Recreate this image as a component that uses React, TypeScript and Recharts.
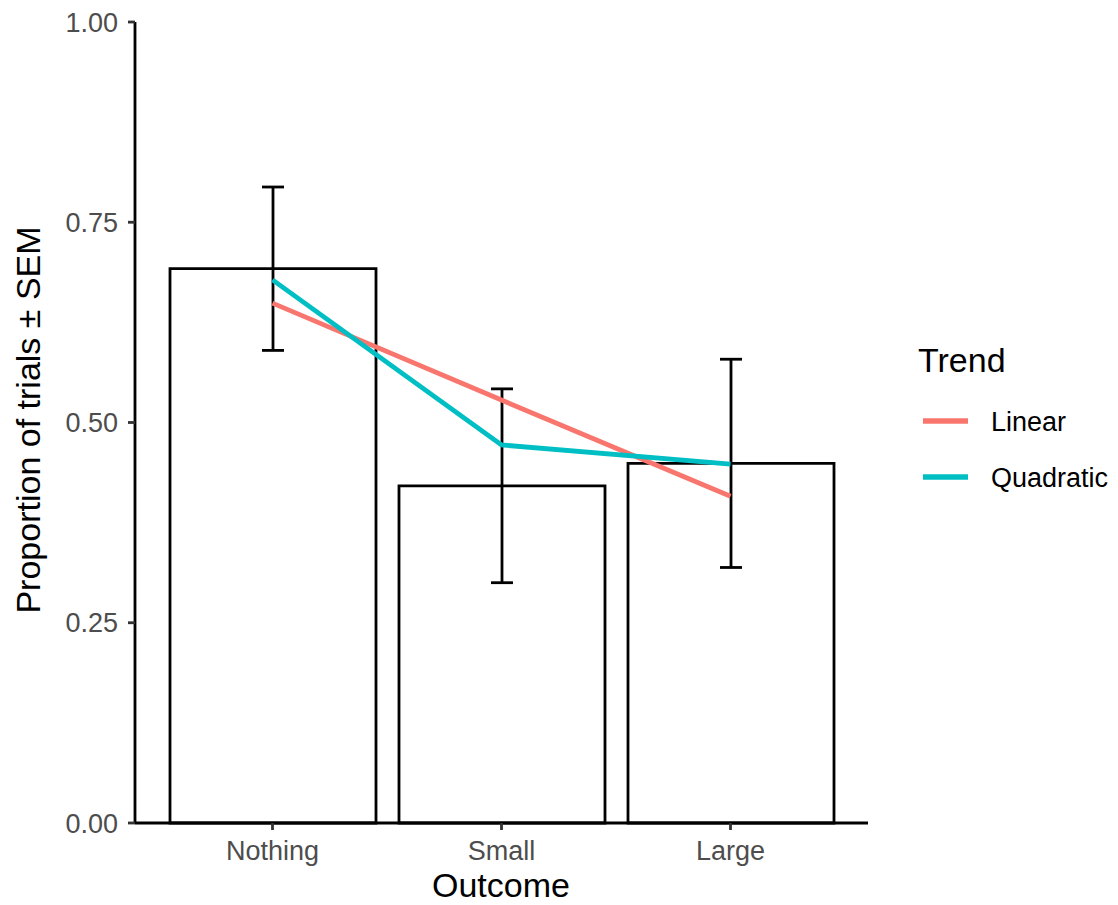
import React from "react";
import {
  Bar,
  ComposedChart,
  ErrorBar,
  Line,
  XAxis,
  YAxis,
} from "recharts";

const outcomes = ["Nothing", "Small", "Large"];
const meanProportion = [0.692, 0.421, 0.449];
const semValues = [0.102, 0.121, 0.13];
const linearTrend = [0.649, 0.528, 0.408];
const quadraticTrend = [0.678, 0.472, 0.448];

const trendNames = ["Linear", "Quadratic"];
const trendKeys = ["linear", "quadratic"];
const trendColors = ["#F8766D", "#00BFC4"];

const yTicks = [0, 0.25, 0.5, 0.75, 1];

const rows = outcomes.map((outcome, i) => ({
  outcome,
  mean: meanProportion[i],
  sem: semValues[i],
  linear: linearTrend[i],
  quadratic: quadraticTrend[i],
}));

const W = 1118;
const H = 905;
const FONT = "'Liberation Sans', Arial, Helvetica, sans-serif";
const tickStyle = { fontSize: 27, fill: "#4D4D4D", fontFamily: FONT };
const INK = 2.8;

export default function App() {
  return (
    <div style={{ position: "absolute", left: 0, top: 0, width: W, height: H, background: "#fff" }}>
      <ComposedChart
        width={W}
        height={H}
        data={rows}
        margin={{ top: 22, right: 250, bottom: 0, left: 0 }}
      >
        <XAxis
          dataKey="outcome"
          type="category"
          height={82}
          padding={{ left: 23, right: 23 }}
          axisLine={{ stroke: "#000", strokeWidth: INK }}
          tickLine={{ stroke: "#333", strokeWidth: INK }}
          tickSize={7}
          tickMargin={11}
          tick={tickStyle}
        />
        <YAxis
          type="number"
          domain={[0, 1]}
          ticks={yTicks}
          width={135}
          tickFormatter={(v: number) => v.toFixed(2)}
          axisLine={{ stroke: "#000", strokeWidth: INK }}
          tickLine={{ stroke: "#333", strokeWidth: INK }}
          tickSize={7}
          tickMargin={10}
          tick={tickStyle}
        />
        <Bar
          dataKey="mean"
          fill="#fff"
          stroke="#000"
          strokeWidth={INK}
          barSize={206}
          isAnimationActive={false}
        >
          <ErrorBar dataKey="sem" width={11} stroke="#000" strokeWidth={INK} />
        </Bar>
        {trendKeys.map((key, i) => (
          <Line
            key={key}
            dataKey={key}
            type="linear"
            stroke={trendColors[i]}
            strokeWidth={4.8}
            dot={false}
            activeDot={false}
            isAnimationActive={false}
          />
        ))}
      </ComposedChart>

      {/* axis titles and legend */}
      <svg
        width={W}
        height={H}
        style={{ position: "absolute", left: 0, top: 0, pointerEvents: "none" }}
        fontFamily={FONT}
      >
        <text
          x={40}
          y={420}
          transform="rotate(-90, 40, 420)"
          textAnchor="middle"
          fontSize={34}
          fill="#000"
        >
          Proportion of trials ± SEM
        </text>
        <text x={501} y={897} textAnchor="middle" fontSize={34} fill="#000">
          Outcome
        </text>
        <text x={918} y={372} fontSize={34} fill="#000">
          Trend
        </text>
        {trendNames.map((name, i) => {
          const cy = 421 + i * 56;
          return (
            <g key={name}>
              <line x1={923} x2={968} y1={cy} y2={cy} stroke={trendColors[i]} strokeWidth={5.5} />
              <text x={991} y={cy + 10} fontSize={27} fill="#000">
                {name}
              </text>
            </g>
          );
        })}
      </svg>
    </div>
  );
}
